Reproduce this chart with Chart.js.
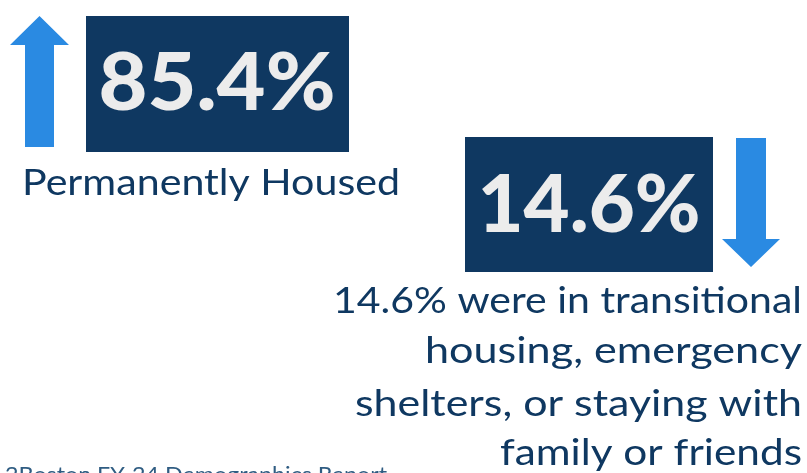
<!DOCTYPE html>
<html lang="en">
<head>
<meta charset="UTF-8">
<title>Housing outcomes</title>
<script src="https://cdn.jsdelivr.net/npm/chart.js@4.4.0/dist/chart.umd.min.js"></script>
<style>
    html, body { margin: 0; padding: 0; background: #ffffff; }
    #wrap { width: 807px; height: 473px; overflow: hidden; }
</style>
</head>
<body>
<div id="wrap"><canvas id="housingChart" width="807" height="473"></canvas></div>
<script>
// data
const categories = ["Permanently Housed", "Transitional / shelter / family or friends"];
const values = [85.4, 14.6];
const directions = ["up", "down"];
const captionLines = [
    ["Permanently Housed"],
    ["% were in transitional", "housing, emergency", "shelters, or staying with", "family or friends"]
];
const footnote = "2Boston FY-24 Demographics Report";

const navy = "#0f3861";
const arrowBlue = "#2a8ae2";
const fontFamily = "Lato, 'Open Sans', sans-serif";

// draw text squeezed/stretched to a target width
function fitText(ctx, text, x, y, width, align) {
    const w = ctx.measureText(text).width;
    const s = width / w;
    ctx.save();
    ctx.translate(x, y);
    ctx.scale(s, 1);
    ctx.textAlign = align;
    ctx.fillText(text, 0, 0);
    ctx.restore();
}

function arrow(ctx, cx, top, bottom, shaftW, headW, headH, dir) {
    ctx.beginPath();
    if (dir === "up") {
        ctx.moveTo(cx, top);
        ctx.lineTo(cx + headW / 2, top + headH);
        ctx.lineTo(cx + shaftW / 2, top + headH);
        ctx.lineTo(cx + shaftW / 2, bottom);
        ctx.lineTo(cx - shaftW / 2, bottom);
        ctx.lineTo(cx - shaftW / 2, top + headH);
        ctx.lineTo(cx - headW / 2, top + headH);
    } else {
        ctx.moveTo(cx, bottom);
        ctx.lineTo(cx + headW / 2, bottom - headH);
        ctx.lineTo(cx + shaftW / 2, bottom - headH);
        ctx.lineTo(cx + shaftW / 2, top);
        ctx.lineTo(cx - shaftW / 2, top);
        ctx.lineTo(cx - shaftW / 2, bottom - headH);
        ctx.lineTo(cx - headW / 2, bottom - headH);
    }
    ctx.closePath();
    ctx.fillStyle = arrowBlue;
    ctx.fill();
}

const infographic = {
    id: "infographic",
    afterDraw(chart) {
        const ctx = chart.ctx;
        ctx.save();
        ctx.fillStyle = "#ffffff";
        ctx.fillRect(0, 0, chart.width, chart.height);
        ctx.textBaseline = "alphabetic";

        // first stat
        arrow(ctx, 39.5, 16, 147, 29, 59, 29, directions[0]);
        ctx.fillStyle = navy;
        ctx.fillRect(86, 16, 263, 136);
        ctx.fillStyle = "#ececec";
        ctx.font = "900 80px " + fontFamily;
        fitText(ctx, values[0].toFixed(1) + "%", 217, 110, 237, "center");
        ctx.fillStyle = navy;
        ctx.font = "400 36px " + fontFamily;
        fitText(ctx, captionLines[0][0], 22, 195, 378, "left");

        // second stat
        arrow(ctx, 751, 138, 267, 30, 58, 28, directions[1]);
        ctx.fillStyle = navy;
        ctx.fillRect(465, 137, 248, 135);
        ctx.fillStyle = "#ececec";
        ctx.font = "900 80px " + fontFamily;
        fitText(ctx, values[1].toFixed(1) + "%", 589, 232, 223, "center");

        ctx.fillStyle = navy;
        ctx.font = "400 36px " + fontFamily;
        const lines = captionLines[1].slice();
        lines[0] = values[1].toFixed(1) + lines[0];
        const widths = [469, 377, 447, 302];
        const baselines = [313, 363, 416, 465];
        lines.forEach((t, i) => fitText(ctx, t, 802, baselines[i], widths[i], "right"));

        ctx.fillStyle = "#2f5c82";
        ctx.font = "400 21px " + fontFamily;
        fitText(ctx, footnote, 5, 482, 382, "left");
        ctx.restore();
    }
};

new Chart(document.getElementById("housingChart"), {
    type: "bar",
    data: {
        labels: categories,
        datasets: [{ data: values, backgroundColor: "rgba(0,0,0,0)" }]
    },
    options: {
        responsive: false,
        animation: false,
        events: [],
        plugins: { legend: { display: false }, tooltip: { enabled: false } },
        scales: { x: { display: false }, y: { display: false, beginAtZero: true, max: 100 } }
    },
    plugins: [infographic]
});
</script>
</body>
</html>
